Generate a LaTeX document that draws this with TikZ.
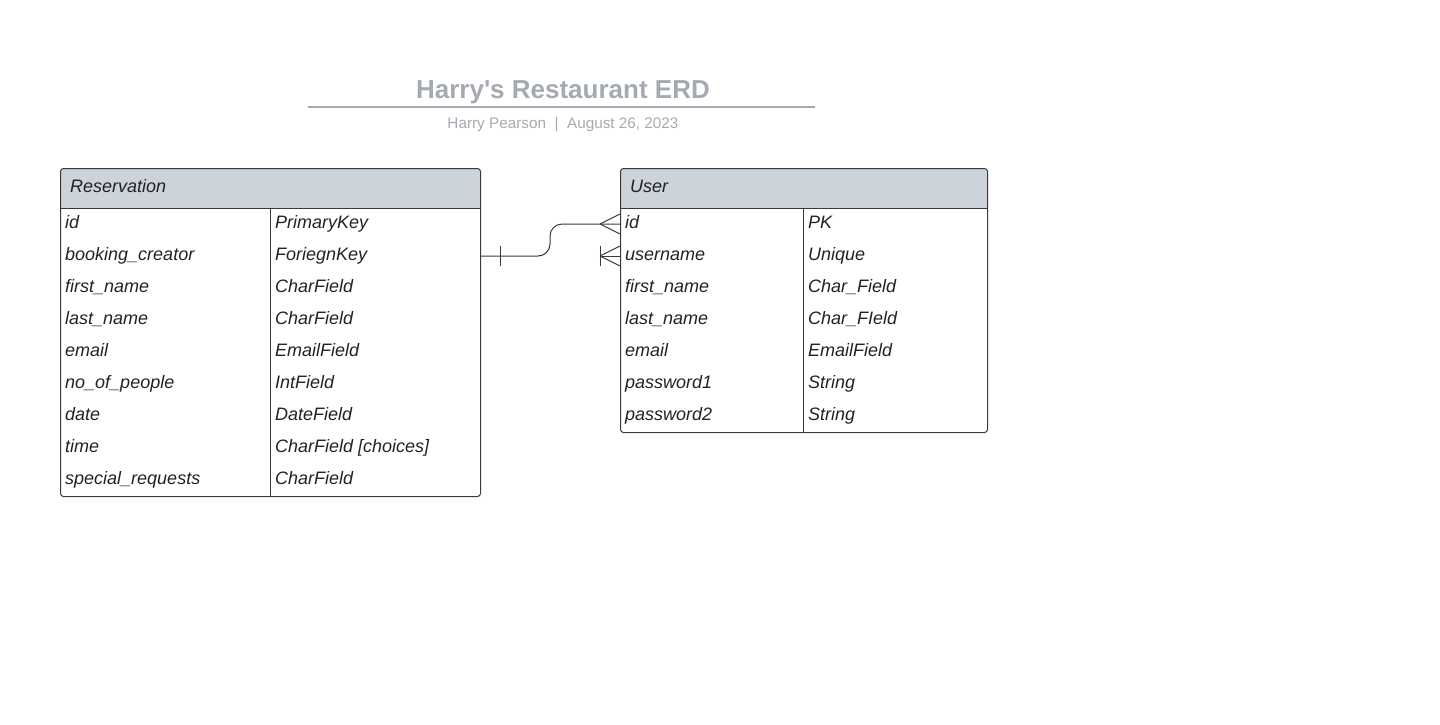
\documentclass[tikz,border=0pt]{standalone}
\usepackage{fontspec}
\setmainfont{Liberation Sans}
\usepackage{xcolor}
\usetikzlibrary{arrows.meta,positioning}
\definecolor{edge}{HTML}{3A3A3A}
\definecolor{hdrfill}{HTML}{CDD3DB}
\definecolor{titlegray}{HTML}{A5AAB2}
\definecolor{ink}{HTML}{222222}

\begin{document}
\begin{tikzpicture}[x=1pt, y=-1pt,
      tbl/.style={draw=edge, line width=1pt, rounded corners=3pt, anchor=north west,
        inner sep=0pt, path picture={\fill[hdrfill] (path picture bounding box.north west)
          rectangle ([yshift=-40pt]path picture bounding box.north east);}},
      hdr/.style={anchor=base west, inner sep=0pt, text=ink, font=\fontsize{18}{20}\selectfont\itshape},
      fld/.style={anchor=base west, inner sep=0pt, text=ink, font=\fontsize{18}{20}\selectfont\itshape},
      rel/.style={draw=edge, line width=1pt},
      >=Stealth]
    \useasboundingbox (0,0) rectangle (1440,724);
    % title block
    \node[anchor=base, text=titlegray, font=\fontsize{26}{28}\selectfont\bfseries] (title) at (563,98) {Harry\textquotesingle s Restaurant ERD};
    \draw[titlegray, line width=2pt] (308,107) -- (815,107);
    \node[anchor=base, text=titlegray, font=\fontsize{15.3}{17}\selectfont] (sub) at (563,128) {Harry Pearson\ \ |\ \ August 26, 2023};
    % Reservation table
    \node[tbl, minimum width=420pt, minimum height=328pt] (res) at (60,168) {};
    \draw[edge, line width=1pt] (60,208) -- (480,208);
    \draw[edge, line width=1pt] (270,208) -- (270,496);
    \node[hdr] (res-name) at (70,192.5) {Reservation};
    \foreach \n/\t [count=\i] in {id/PrimaryKey, booking\_creator/ForiegnKey,
        first\_name/CharField, last\_name/CharField, email/EmailField,
        no\_of\_people/IntField, date/DateField, time/CharField [choices],
        special\_requests/CharField} {
      \node[fld] (res-f\i) at (65,196.5+32*\i) {\n};
      \node[fld] (res-t\i) at (275,196.5+32*\i) {\t};
    }
    % User table
    \node[tbl, minimum width=367pt, minimum height=264pt] (usr) at (620,168) {};
    \draw[edge, line width=1pt] (620,208) -- (987,208);
    \draw[edge, line width=1pt] (803,208) -- (803,432);
    \node[hdr] (usr-name) at (630,192.5) {User};
    \foreach \n/\t [count=\i] in {id/PK, username/Unique, first\_name/Char\_Field,
        last\_name/Char\_FIeld, email/EmailField, password1/String, password2/String} {
      \node[fld] (usr-f\i) at (625,196.5+32*\i) {\n};
      \node[fld] (usr-t\i) at (808,196.5+32*\i) {\t};
    }
    % relation booking_creator -> id
    \coordinate (a) at (480,256);
    \coordinate (b) at (620,224);
    \draw[rel, rounded corners=12pt] (a) -- (550,256) -- (550,224) -- (b);
    \draw[rel] ([xshift=20pt]a) ++(0,-10) -- ++(0,20);
    \draw[rel] ([xshift=-20pt]b) -- ([yshift=10pt]b);
    \draw[rel] ([xshift=-20pt]b) -- ([yshift=-10pt]b);
    % crow's foot on username
    \coordinate (c) at (620,256);
    \draw[rel] ([xshift=-20pt]c) -- (c);
    \draw[rel] ([xshift=-20pt]c) -- ([yshift=10pt]c);
    \draw[rel] ([xshift=-20pt]c) -- ([yshift=-10pt]c);
    \draw[rel] ([xshift=-20pt,yshift=-10pt]c) -- ([xshift=-20pt,yshift=10pt]c);
  \end{tikzpicture}
\end{document}
